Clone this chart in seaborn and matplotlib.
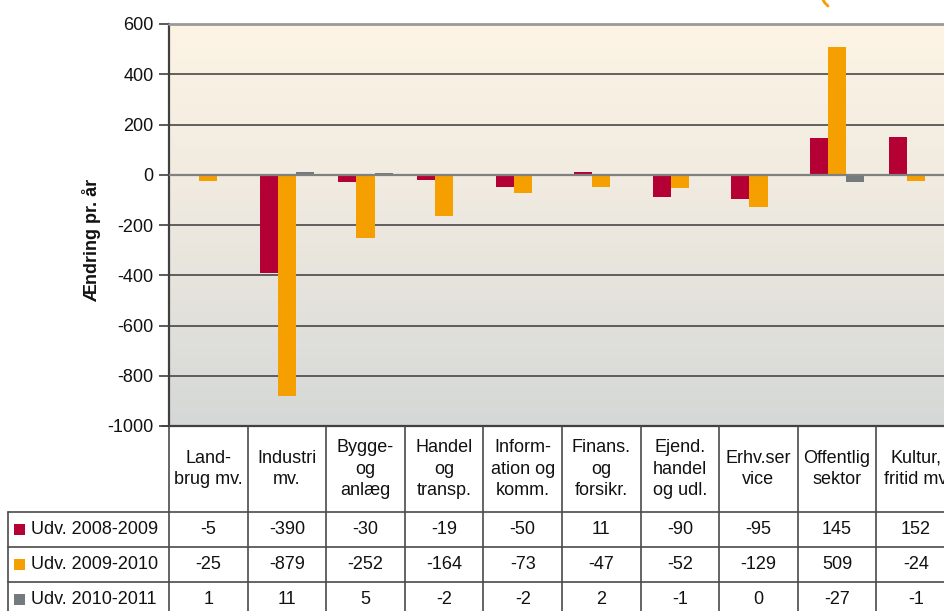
import numpy as np
import pandas as pd
import matplotlib
matplotlib.use("Agg")
import matplotlib.pyplot as plt
import seaborn as sns
from matplotlib.transforms import blended_transform_factory
from matplotlib.lines import Line2D
from matplotlib.patches import Rectangle

categories = ["Land-\nbrug mv.", "Industri\nmv.", "Bygge-\nog\nanlæg", "Handel\nog\ntransp.",
              "Inform-\nation og\nkomm.", "Finans.\nog\nforsikr.", "Ejend.\nhandel\nog udl.",
              "Erhv.ser\nvice", "Offentlig\nsektor", "Kultur,\nfritid mv"]
series_names = ["Udv. 2008-2009", "Udv. 2009-2010", "Udv. 2010-2011"]
v_2008_2009 = [-5, -390, -30, -19, -50, 11, -90, -95, 145, 152]
v_2009_2010 = [-25, -879, -252, -164, -73, -47, -52, -129, 509, -24]
v_2010_2011 = [1, 11, 5, -2, -2, 2, -1, 0, -27, -1]
y_ticks = [600, 400, 200, 0, -200, -400, -600, -800, -1000]
y_label = "Ændring pr. år"
colors = ["#B50035", "#F5A000", "#737B7F"]

series_values = [v_2008_2009, v_2009_2010, v_2010_2011]
rows = []
for s, vals in zip(series_names, series_values):
    for c, v in zip(categories, vals):
        rows.append({"cat": c, "series": s, "value": v})
df = pd.DataFrame(rows)

sns.set_style("white")
plt.rcParams["font.family"] = ["Liberation Sans", "DejaVu Sans"]

W, H = 944, 611
fig = plt.figure(figsize=(W / 100, H / 100), dpi=100)
left_px, right_px, top_px, bot_px = 169, 955, 24, 426
ax = fig.add_axes([left_px / W, 1 - bot_px / H, (right_px - left_px) / W, (bot_px - top_px) / H])

# gradient background
grad = np.linspace(0, 1, 256).reshape(-1, 1)
from matplotlib.colors import LinearSegmentedColormap
cmap = LinearSegmentedColormap.from_list("bg", ["#FDF4E4", "#EDE8DF", "#D5D8D7"])
ax.imshow(grad, extent=[-0.5, 9.5, -1000, 600], aspect="auto", cmap=cmap, origin="upper", zorder=0)

sns.barplot(data=df, x="cat", y="value", hue="series", order=categories, hue_order=series_names,
            palette=colors, saturation=1, width=0.69, ax=ax, legend=False, errorbar=None,
            linewidth=0, zorder=3)

ax.set_xlim(-0.5, 9.5)
ax.set_ylim(-1000, 600)
for t in y_ticks:
    if t in (600, -1000, 0):
        continue
    ax.axhline(t, color="#3a3a3a", lw=1.1, zorder=1)
ax.axhline(0, color="#808080", lw=1.6, zorder=4)
ax.axhline(600, color="#9a9a9a", lw=2.0, zorder=4, clip_on=False)

ax.set_yticks(y_ticks)
ax.set_yticklabels([str(t) for t in y_ticks], fontsize=13, color="#111111")
ax.tick_params(axis="y", direction="out", length=7, width=1.2, color="#404040", pad=4, left=True)
ax.set_xticks([])
ax.set_xlabel("")
ax.set_ylabel("")
for side in ["top", "right", "bottom"]:
    ax.spines[side].set_visible(False)
ax.spines["left"].set_color("#404040")
ax.spines["left"].set_linewidth(1.6)

fig.text(92 / W, 1 - 240 / H, y_label, rotation=90, ha="center", va="center",
         fontsize=13, fontweight="bold", color="#111111")

# data table
tr = blended_transform_factory(ax.transData, fig.transFigure)
def fy(py):
    return 1 - py / H

line_c = "#4a4a4a"
lw = 1.2
row_tops = [512, 547, 582, 617]
# horizontal lines
fig.add_artist(Line2D([left_px / W, right_px / W], [fy(426), fy(426)], color="#404040", lw=1.6))
for ry in row_tops[:3]:
    fig.add_artist(Line2D([8 / W, right_px / W], [fy(ry), fy(ry)], color=line_c, lw=lw))
# vertical lines
fig.add_artist(Line2D([8 / W, 8 / W], [fy(512), fy(611)], color=line_c, lw=lw))
for i in range(11):
    fig.add_artist(Line2D([i - 0.5, i - 0.5], [fy(426), fy(611)], color=line_c, lw=lw, transform=tr))
# -1000 tick extension
fig.add_artist(Line2D([162 / W, left_px / W], [fy(426), fy(426)], color="#404040", lw=1.2))

for i, c in enumerate(categories):
    fig.text(i, fy(469), c, transform=tr, ha="center", va="center", fontsize=13,
             linespacing=1.35, color="#111111")

for r, (name, vals, col) in enumerate(zip(series_names, series_values, colors)):
    cy = (row_tops[r] + row_tops[r] + 35) / 2
    fig.add_artist(Rectangle((14 / W, fy(cy + 5)), 11 / W, 11 / H, facecolor=col, edgecolor="none"))
    fig.text(31 / W, fy(cy), name, ha="left", va="center", fontsize=13, color="#111111")
    for i, v in enumerate(vals):
        fig.text(i, fy(cy), str(v), transform=tr, ha="center", va="center", fontsize=13, color="#111111")

# clipped annotation stroke at top
fig.add_artist(Line2D([823 / W, 825 / W, 828 / W], [fy(0), fy(3), fy(6)], color="#F5A000", lw=2))

fig.savefig("out.png", dpi=100)
